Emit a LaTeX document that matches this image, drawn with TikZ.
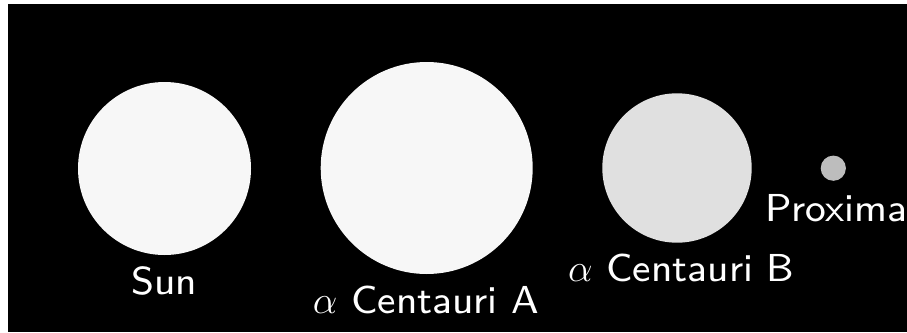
\RequirePackage{fix-cm}
\documentclass[tikz,border=0pt]{standalone}
\usepackage{fontspec}
\newfontfamily\lmsten{lmsans8-regular.otf}
\definecolor{starA}{HTML}{F7F7F7}
\definecolor{starB}{HTML}{E0E0E0}
\definecolor{starP}{HTML}{BDBDBD}
\begin{document}
\begin{tikzpicture}[x=1pt,y=-1pt,
  star/.style={circle,inner sep=0pt,minimum size=#1,draw=none},
  lbl/.style={anchor=base,text=white,inner sep=0pt,font=\lmsten\fontsize{39}{47}\selectfont}]
\useasboundingbox[fill=white] (0,0) rectangle (907,332);
\fill[black] (8,4) rectangle (907,332);
\node[star=173pt,fill=starA] (sun) at (164.5,168.5) {};
\node[star=212pt,fill=starA] (a) at (426.7,168) {};
\node[star=149.4pt,fill=starB] (b) at (677,168) {};
\node[star=25.2pt,fill=starP] (p) at (833.3,168.2) {};
\node[lbl] (sunl) at (164,294.3) {Sun};
\node[lbl] (al) at (426,313.3) {$\alpha$ Centauri A};
\node[lbl] (bl) at (681.3,281.7) {$\alpha$ Centauri B};
\node[lbl] (pl) at (836,221.7) {Proxima};
\end{tikzpicture}
\end{document}
